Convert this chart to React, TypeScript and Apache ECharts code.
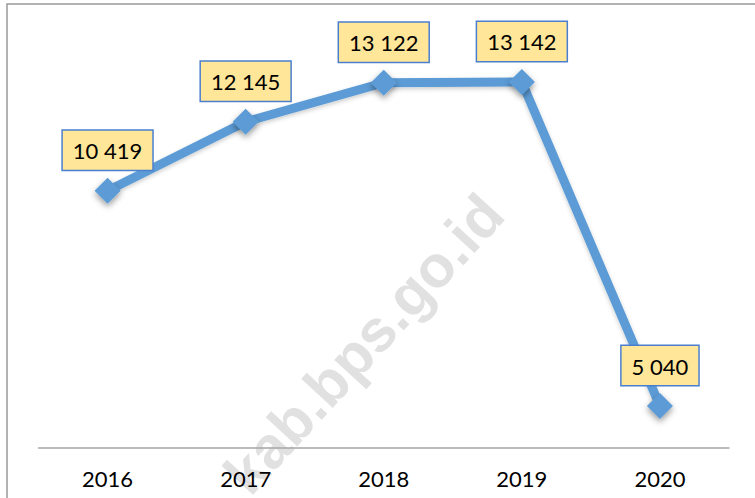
import React, { useEffect, useRef } from "react";
import * as echarts from "echarts";

const years = ["2016", "2017", "2018", "2019", "2020"];
const values = [10419, 12145, 13122, 13142, 5040];
const watermarkText = "kab.bps.go.id";

const fmt = (v: number) => {
  const s = String(v);
  return s.replace(/\B(?=(\d{3})+(?!\d))/g, " ");
};

export default function App() {
  const ref = useRef<HTMLDivElement>(null);
  useEffect(() => {
    if (!ref.current) return;
    const chart = echarts.init(ref.current, null, { renderer: "svg" });
    chart.setOption({
      animation: false,
      backgroundColor: "#ffffff",
      grid: { left: 38.5, top: 47.6, width: 690.5, height: 400, containLabel: false },
      xAxis: {
        type: "category",
        data: years,
        axisTick: { show: false },
        axisLine: { lineStyle: { color: "#a6a6a6", width: 1.5 } },
        axisLabel: { fontSize: 22, color: "#000", margin: 20, fontFamily: "Lato" },
        splitLine: { show: false },
      },
      yAxis: {
        type: "value",
        min: 4000,
        max: 14000,
        show: false,
        splitLine: { show: false },
      },
      graphic: [
        {
          type: "rect",
          z: -10,
          shape: { x: 7, y: 4, width: 800, height: 600 },
          style: { fill: "none", stroke: "#999999", lineWidth: 1.5 },
        },
        {
          type: "text",
          z: -5,
          x: 364,
          y: 344,
          rotation: (47.5 * Math.PI) / 180,
          style: {
            text: watermarkText,
            fontSize: 59,
            fontWeight: "bold",
            fontFamily: "Liberation Sans, Arial, sans-serif",
            fill: "#e1e1e1",
            align: "center",
            verticalAlign: "middle",
          },
        },
      ],
      series: [
        {
          type: "line",
          data: values,
          symbol: "diamond",
          symbolSize: 26,
          z: 5,
          lineStyle: {
            color: "#5b9bd5",
            width: 9,
            shadowColor: "rgba(0,0,0,0.2)",
            shadowBlur: 4,
            shadowOffsetY: 2,
          },
          itemStyle: {
            color: "#5b9bd5",
            shadowColor: "rgba(0,0,0,0.4)",
            shadowBlur: 6,
            shadowOffsetY: 3,
          },
          label: {
            show: true,
            position: "top",
            distance: 8,
            formatter: (p: any) => fmt(p.value),
            fontSize: 22,
            fontFamily: "Lato",
            color: "#000",
            backgroundColor: "#ffe699",
            borderColor: "#4a7fd0",
            borderWidth: 1.5,
            padding: [7, 10, 6, 10],
            lineHeight: 26,
          },
        },
      ],
    });
    return () => chart.dispose();
  }, []);
  return (
    <div
      ref={ref}
      style={{ position: "fixed", left: 0, top: 0, width: 755, height: 498 }}
    />
  );
}
